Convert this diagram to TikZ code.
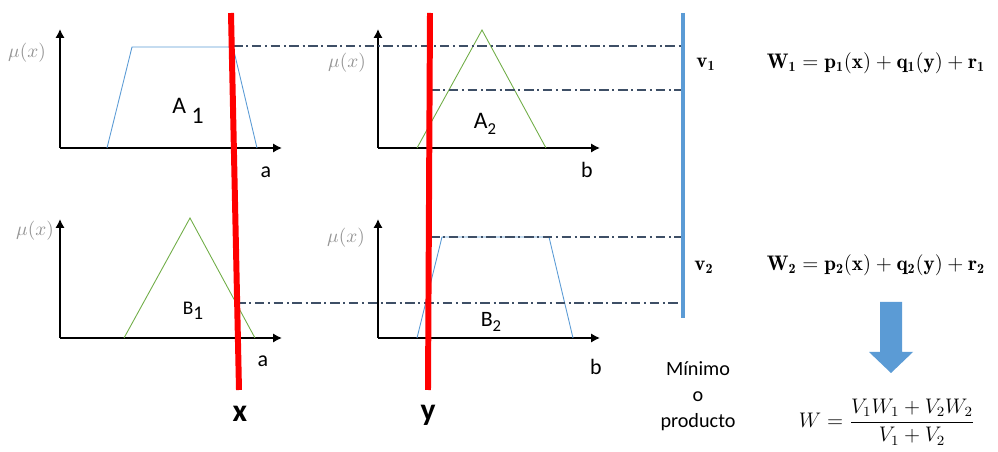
\documentclass[tikz,border=0pt]{standalone}
\usepackage{fontspec}
\setsansfont{Carlito}
\usetikzlibrary{arrows.meta}
\definecolor{mfblue}{HTML}{5B9BD5}
\definecolor{mfgreen}{HTML}{70AD47}
\definecolor{cutred}{HTML}{FF0000}
\definecolor{levelgray}{HTML}{3E4F66}
\newcommand{\lowsub}[1]{\raisebox{-0.55ex}{\fontsize{9.5}{10}\selectfont #1}}

\begin{document}
\begin{tikzpicture}[
    x=0.02cm, y=-0.02cm,
    axis/.style={-{Latex[length=1.8mm, width=1.9mm]}, line width=1.4pt},
    trap/.style={draw=mfblue, line width=0.5pt},
    tri/.style={draw=mfgreen, line width=0.5pt},
    cut/.style={draw=cutred, line width=3.4pt},
    vbar/.style={draw=mfblue, line width=2.8pt},
    level/.style={draw=levelgray, line width=0.7pt, dash pattern=on 5.5pt off 2pt on 1.2pt off 2pt},
    mulbl/.style={font=\fontsize{10.5}{12}\selectfont, text=gray!85},
    setlbl/.style={font=\sffamily\fontsize{13.5}{15}\selectfont, inner sep=0pt},
    varlbl/.style={font=\sffamily\fontsize{12.5}{15}\selectfont, inner sep=0pt},
    inlbl/.style={font=\sffamily\bfseries\fontsize{18}{20}\selectfont, inner sep=0pt},
    eq/.style={font=\fontsize{12}{14}\selectfont, inner sep=0pt},
]
\useasboundingbox (0,0) rectangle (998,452);

% Axes of the four panels
\foreach \ox/\oy/\nm in {60/148/ta, 378/148/tb, 60/338/ba, 378/338/bb} {
    \coordinate (o\nm) at (\ox,\oy);
    \draw[axis] (o\nm) -- ++(0,-119);
    \draw[axis] (o\nm) -- ++(222,0);
}

% Axis labels
\node[mulbl] (mu1) at (27,53) {$\mu(x)$};
\node[mulbl] (mu2) at (347,63) {$\mu(x)$};
\node[mulbl] (mu3) at (35,231) {$\mu(x)$};
\node[mulbl] (mu4) at (346,238) {$\mu(x)$};
\node[varlbl] (a1) at (266,172) {a};
\node[varlbl] (b1) at (587,170) {b};
\node[varlbl] (a2) at (263,361) {a};
\node[varlbl] (b2) at (596,367) {b};

% Membership functions
\draw[trap] (107,148) -- (132,47) -- (233,47) -- (257,148);
\draw[tri] (417,148) -- (482,30) -- (546,148);
\draw[tri] (124,338) -- (190,218) -- (255,338);
\draw[trap] (417,338) -- (442,237) -- (549,237) -- (573,338);

\node[setlbl] (A1) at (188,111) {A\ \raisebox{-0.95ex}{1}};
\node[setlbl] (A2) at (485,124) {A\lowsub{2}};
\node[setlbl, font=\sffamily\fontsize{11}{13}\selectfont] (B1) at (193,311) {B\raisebox{-0.6ex}{1}};
\node[setlbl, font=\sffamily\fontsize{12.5}{15}\selectfont] (B2) at (491,322) {B\lowsub{2}};

% Firing levels
\coordinate (vtop) at (683,13);
\coordinate (vbot) at (683,318);
\coordinate (muA1) at (233,46);
\coordinate (muA2) at (430,90);
\coordinate (muB2) at (430,237);
\coordinate (muB1) at (236,303);
\foreach \c in {muA1, muA2, muB2, muB1} {
    \draw[level] (\c) -- (\c -| vtop);
}

% Crisp inputs
\coordinate (xtop) at (231,13);
\coordinate (xbot) at (239,390);
\coordinate (ytop) at (430,13);
\coordinate (ybot) at (428,390);
\draw[cut] (xtop) -- (xbot);
\draw[cut] (ytop) -- (ybot);
\node[inlbl] (xin) at (240,414) {x};
\node[inlbl] (yin) at (428,415) {y};

\draw[vbar] (vtop) -- (vbot);

% Rule outputs
\node[eq] (v1) at (706,64) {$\mathbf{v_1}$};
\node[eq] (v2) at (704,267) {$\mathbf{v_2}$};
\node[eq] (w1) at (876,63) {$\mathbf{W_1 = p_1(x) + q_1(y) + r_1}$};
\node[eq] (w2) at (876,265) {$\mathbf{W_2 = p_2(x) + q_2(y) + r_2}$};

\node[font=\sffamily\fontsize{11.5}{14.8}\selectfont, align=center, inner sep=0pt] (op) at (698,396) {Mínimo\\o\\producto};

\fill[mfblue] (880,302) -- (902,302) -- (902,352) -- (913,352) -- (891,373) -- (869,352) -- (880,352) -- cycle;

\node[eq] (wout) at (887,422) {$W = \displaystyle\frac{V_1W_1 + V_2W_2}{V_1 + V_2}$};

\end{tikzpicture}
\end{document}
